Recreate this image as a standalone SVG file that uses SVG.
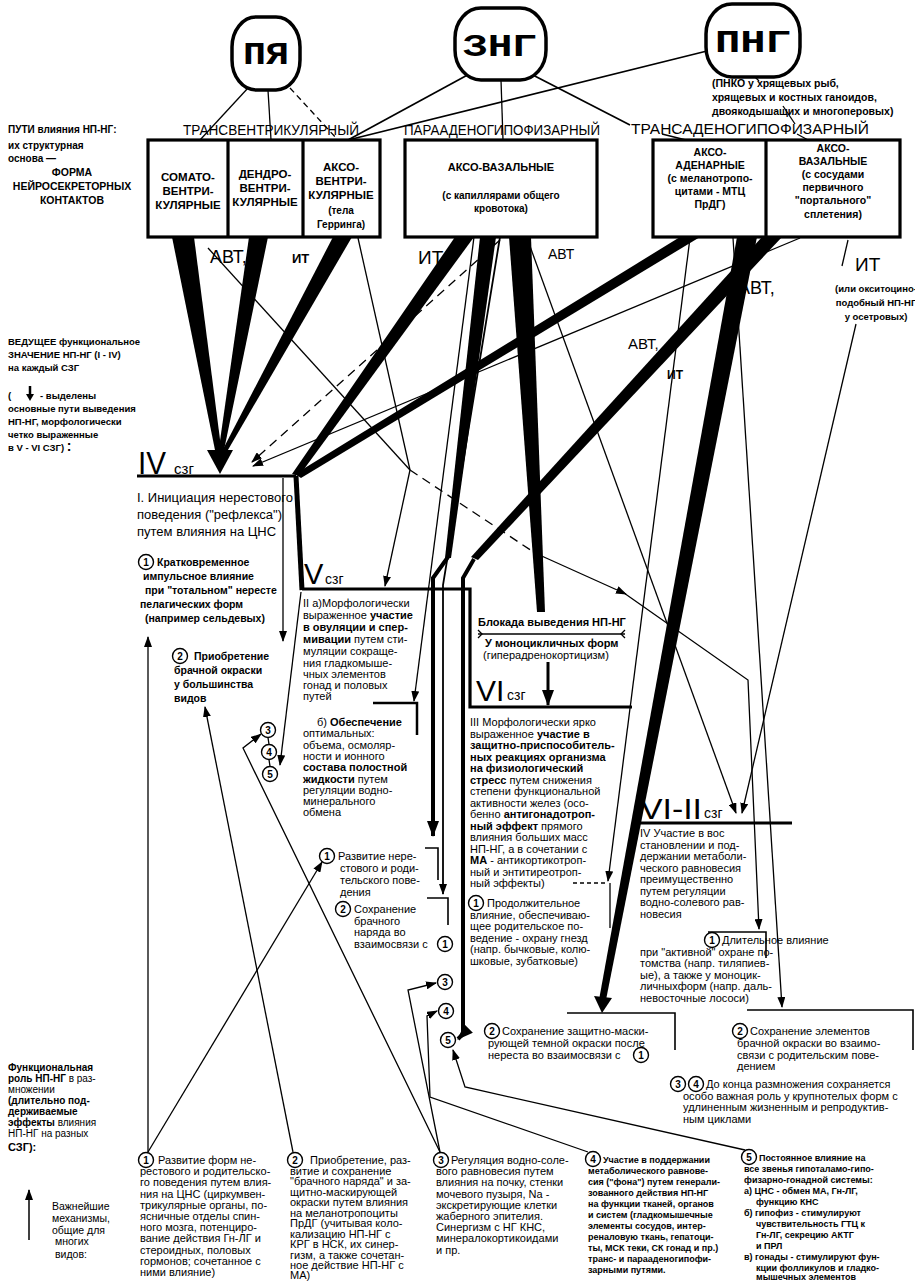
<svg xmlns="http://www.w3.org/2000/svg" width="915" height="1282" viewBox="0 0 915 1282">
<style>
text{font-family:"Liberation Sans",Arial,sans-serif;fill:#000}
.b{font-weight:bold}
.f9{font-size:9.5px}
.f10{font-size:10px}
.f11{font-size:11px}
.f12{font-size:11.5px}
.mono{font-family:"Liberation Mono","Courier New",monospace;font-weight:bold}
.ln{stroke:#000;fill:none;stroke-width:1.3}
.ln2{stroke:#000;fill:none;stroke-width:2.5}
.ln3{stroke:#000;fill:none;stroke-width:3.2}
.dash{stroke-dasharray:9 6}
.blk{fill:#000;stroke:none}
.box{fill:#fff;stroke:#000;stroke-width:3.2}
.ov{fill:#fff;stroke:#000;stroke-width:3.5}
.cc{fill:#fff;stroke:#000;stroke-width:1.4}
.cn{font-size:10px;font-weight:bold;text-anchor:middle}
.mid{text-anchor:middle}
</style>
<defs>
<marker id="a" markerUnits="userSpaceOnUse" markerWidth="11" markerHeight="8" refX="10" refY="4" orient="auto"><path d="M0,0 L11,4 L0,8 z" fill="#000"/></marker>
<marker id="A" markerUnits="userSpaceOnUse" markerWidth="16" markerHeight="12" refX="15" refY="6" orient="auto"><path d="M0,0 L16,6 L0,12 z" fill="#000"/></marker>
</defs>
<rect width="915" height="1282" fill="#fff"/>

<!-- connectors -->
<g id="connectors">
<!-- top: ovals to path labels -->
<line class="ln" x1="248" y1="88" x2="200" y2="140"/>
<line class="ln" x1="268" y1="90" x2="271" y2="140"/>
<line class="ln dash" x1="290" y1="88" x2="338" y2="140" style="stroke-dasharray:6 4"/>
<line class="ln" x1="473" y1="72" x2="348" y2="140" style="stroke-width:1.7"/>
<line class="ln" x1="501" y1="80" x2="503" y2="140"/>
<line class="ln" x1="527" y1="72" x2="630" y2="125" style="stroke-width:1.7"/>
<line class="ln" x1="662" y1="134" x2="686" y2="140"/>
<line class="ln" x1="711" y1="50" x2="348" y2="140" style="stroke-width:1.7"/>
<line class="ln" x1="755" y1="77" x2="759" y2="81"/>
<line class="ln" x1="783" y1="106" x2="795" y2="124"/>
<line class="ln" x1="797" y1="134" x2="808" y2="140"/>

<!-- thick wedges to IV -->
<polygon class="blk" points="172,237 194,237 222,455 216,455"/>
<polygon class="blk" points="249,237 268,237 223,455 218,455"/>
<polygon class="blk" points="333,237 352,237 225,455 220,455"/>
<polygon class="blk" points="207,450 233,450 220,474"/>
<!-- thick to IV end / V border -->
<polygon class="blk" points="455,237 474,237 299,476 292,474"/>
<polygon class="blk" points="680,237 700,237 301,478 295,474"/>
<line class="ln" x1="296" y1="476" x2="302" y2="590" style="stroke-width:5"/>
<!-- thick middle to V/① -->
<polygon class="blk" points="480,237 496,237 451,558 445,558"/>
<polyline class="ln" points="448,557 433,578 433,836" style="stroke-width:4" marker-end="url(#A)"/>
<!-- thick right box to ⑤ -->
<polygon class="blk" points="762,237 782,237 478,560 471,557"/>
<polyline class="ln" points="474,559 463,578 463,1034 458,1039" style="stroke-width:4" marker-end="url(#A)"/>
<!-- thick right box to ② защитно -->
<polygon class="blk" points="737,237 757,237 606,1000 599,1000"/>
<polygon class="blk" points="594,996 612,998 602,1013"/>
<!-- thick middle toward Блокада -->
<polygon class="blk" points="509,237 531,237 545,612 537,612"/>

<!-- thin connectors -->
<line class="ln" x1="208" y1="248" x2="410" y2="470"/>
<line class="ln" x1="358" y1="238" x2="410" y2="470"/>
<line class="ln" x1="410" y1="470" x2="385" y2="586" marker-end="url(#a)"/>
<line class="ln dash" x1="410" y1="470" x2="535" y2="553"/>
<line class="ln" x1="535" y1="553" x2="626" y2="594" marker-end="url(#a)"/>
<polyline class="ln" points="624,593 748,680 759,929" marker-end="url(#a)"/>
<line class="ln" x1="474" y1="237" x2="414" y2="701" marker-end="url(#a)"/>
<polyline class="ln" points="500,237 443,585 443,894" style="stroke-width:1.8" marker-end="url(#a)"/>
<line class="ln dash" x1="500" y1="240" x2="252" y2="462" marker-end="url(#a)"/>
<line class="ln" x1="527" y1="238" x2="736" y2="813" marker-end="url(#a)"/>
<line class="ln" x1="733" y1="238" x2="782" y2="1007" marker-end="url(#a)"/>
<line class="ln" x1="800" y1="238" x2="253" y2="466" marker-end="url(#a)"/>
<line class="ln" x1="690" y1="238" x2="608" y2="881" marker-end="url(#a)"/>
<line class="ln" x1="848" y1="240" x2="842" y2="266"/>
<line class="ln" x1="856" y1="324" x2="742" y2="813" marker-end="url(#a)"/>
<line class="ln" x1="283" y1="478" x2="283" y2="641" marker-end="url(#a)"/>
<line class="ln" x1="301" y1="592" x2="280" y2="765" marker-end="url(#a)"/>
<line class="ln" x1="268" y1="737.5" x2="269" y2="744.5"/>
<line class="ln" x1="269" y1="759.5" x2="270" y2="766.5"/>

<!-- bottom mechanism links -->
<line class="ln" x1="148" y1="1152" x2="148" y2="637" marker-end="url(#a)"/>
<line class="ln" x1="148" y1="1152" x2="322" y2="862" marker-end="url(#a)"/>
<line class="ln" x1="293" y1="1152" x2="205" y2="707" marker-end="url(#a)"/>
<polyline class="ln" points="440,1152 243,748 261,734" marker-end="url(#a)"/>
<polyline class="ln" points="440,1152 408,990 436,983" marker-end="url(#a)"/>
<polyline class="ln" points="588,1152 430,1097 427,1016 437,1011" marker-end="url(#a)"/>
<polyline class="ln" points="745,1150 465,1087 453,1050" marker-end="url(#a)"/>

<!-- level lines / box borders -->
<line class="ln3" x1="137" y1="476" x2="296" y2="476"/>
<polyline class="ln3" points="302,589 470,589 470,707 632,707"/>
<polyline class="ln2" points="373,703 417,703 417,735"/>
<polyline class="ln" points="425,848 438,848 438,880" style="stroke-width:1.6"/>
<polyline class="ln" points="427,898 448,898 448,925" style="stroke-width:1.6"/>
<line class="ln dash" x1="573" y1="883" x2="606" y2="883" style="stroke-dasharray:4 3"/>
<line class="ln" x1="610" y1="883" x2="610" y2="928"/>
<polyline class="ln" points="567,1013 675,1013 675,1050" style="stroke-width:1.6"/>
<line class="ln3" x1="638" y1="823" x2="792" y2="823"/>
<polyline class="ln" points="708,932 766,932 766,958" style="stroke-width:1.6"/>
<polyline class="ln" points="747,1010 913,1010 913,1050" style="stroke-width:1.6"/>
<line class="ln" x1="478" y1="634" x2="625" y2="634"/>
<polyline class="ln" points="478,630 482,634 478,638"/>
<polyline class="ln" points="625,630 621,634 625,638"/>
<line class="ln" x1="548" y1="662" x2="548" y2="705" style="stroke-width:3" marker-end="url(#A)"/>
</g>

<!-- top ovals -->
<g id="node-PYa"><rect class="ov" x="232" y="17" width="68" height="73" rx="24" ry="30"/><text class="mono mid" x="266" y="64" font-size="31" textLength="46" lengthAdjust="spacingAndGlyphs">ПЯ</text></g>
<g id="node-ZNG"><rect class="ov" x="455" y="8" width="91" height="72" rx="26" ry="30"/><text class="mono mid" x="500" y="56" font-size="31" textLength="74" lengthAdjust="spacingAndGlyphs">ЗНГ</text></g>
<g id="node-PNG"><rect class="ov" x="706" y="4" width="94" height="73" rx="26" ry="30"/><text class="mono mid" x="753" y="52" font-size="31" textLength="76" lengthAdjust="spacingAndGlyphs">ПНГ</text></g>
<g id="note-PNKO" class="mono" font-size="10.5">
<text x="712" y="87">(ПНКО у хрящевых рыб,</text>
<text x="712" y="101">хрящевых и костных ганоидов,</text>
<text x="712" y="115">двоякодышащих и многоперовых)</text>
</g>

<!-- path labels -->
<g id="path-labels" font-size="14">
<text x="183" y="135" textLength="176" lengthAdjust="spacingAndGlyphs">ТРАНСВЕНТРИКУЛЯРНЫЙ</text>
<text x="404" y="135" textLength="196" lengthAdjust="spacingAndGlyphs">ПАРААДЕНОГИПОФИЗАРНЫЙ</text>
<text x="631" y="134" textLength="238" lengthAdjust="spacingAndGlyphs">ТРАНСАДЕНОГИПОФИЗАРНЫЙ</text>
</g>

<g id="legend-top" class="b f10">
<text x="8" y="133">ПУТИ влияния  НП-НГ:</text>
<text x="8" y="149">их структурная</text>
<text x="8" y="162">основа —</text>
<text class="mid" x="72" y="176" font-size="10.5">ФОРМА</text>
<text class="mid" x="72" y="190" font-size="10.5">НЕЙРОСЕКРЕТОРНЫХ</text>
<text class="mid" x="72" y="204" font-size="10.5">КОНТАКТОВ</text>
</g>

<!-- contact boxes -->
<g id="node-transventricular">
<rect class="box" x="148" y="140" width="232" height="97"/>
<line class="ln3" x1="228" y1="140" x2="228" y2="237"/>
<line class="ln3" x1="303" y1="140" x2="303" y2="237"/>
<g class="b f12 mid">
<text x="188" y="181">СОМАТО-</text><text x="188" y="195">ВЕНТРИ-</text><text x="188" y="209">КУЛЯРНЫЕ</text>
<text x="265" y="178">ДЕНДРО-</text><text x="265" y="192">ВЕНТРИ-</text><text x="265" y="206">КУЛЯРНЫЕ</text>
<text x="341" y="171">АКСО-</text><text x="341" y="185">ВЕНТРИ-</text><text x="341" y="199">КУЛЯРНЫЕ</text>
<text x="341" y="214" font-size="10">(тела</text><text x="341" y="228" font-size="10">Герринга)</text>
</g>
</g>
<g id="node-paraadeno">
<rect class="box" x="405" y="140" width="192" height="97"/>
<g class="b mid">
<text x="501" y="171" font-size="11">АКСО-ВАЗАЛЬНЫЕ</text>
<text x="501" y="199" font-size="10">(с капиллярами общего</text>
<text x="501" y="212" font-size="10">кровотока)</text>
</g>
</g>
<g id="node-transadeno">
<rect class="box" x="653" y="140" width="247" height="97"/>
<line class="ln3" x1="766" y1="140" x2="766" y2="237"/>
<g class="b mid" font-size="10.5">
<text x="710" y="156">АКСО-</text><text x="710" y="169">АДЕНАРНЫЕ</text><text x="710" y="182">(с меланотропо-</text><text x="710" y="195">цитами - МТЦ</text><text x="710" y="208">ПрДГ)</text>
<text x="833" y="152">АКСО-</text><text x="833" y="165">ВАЗАЛЬНЫЕ</text><text x="833" y="178">(с сосудами</text><text x="833" y="191">первичного</text><text x="833" y="204">"портального"</text><text x="833" y="218">сплетения)</text>
</g>
</g>

<!-- transmission labels -->
<g id="labels-avt-it">
<text x="210" y="263" font-size="18">АВТ,</text>
<text class="b" x="292" y="263" font-size="13">ИТ</text>
<text x="418" y="264" font-size="19">ИТ,</text>
<text x="548" y="259" font-size="14">АВТ</text>
<text x="738" y="294" font-size="18">АВТ,</text>
<text x="628" y="349" font-size="15">АВТ,</text>
<text class="b" x="667" y="379" font-size="12">ИТ</text>
<text x="855" y="271" font-size="19">ИТ</text>
<g class="b mid" font-size="9.5"><text x="876" y="292">(или окситоцино-</text><text x="876" y="306">подобный НП-НГ</text><text x="876" y="320">у осетровых)</text></g>
</g>

<g id="legend-mid" class="b f9">
<text x="8" y="345">ВЕДУЩЕЕ функциональное</text>
<text x="8" y="358">ЗНАЧЕНИЕ НП-НГ (I - IV)</text>
<text x="8" y="371">на каждый СЗГ</text>
<text x="8" y="399">(</text>
<line x1="30" y1="386" x2="30" y2="395" stroke="#000" stroke-width="2.5"/>
<polygon class="blk" points="26,394 34,394 30,401"/>
<text x="40" y="399">- выделены</text>
<text x="8" y="412">основные пути выведения</text>
<text x="8" y="425">НП-НГ, морфологически</text>
<text x="8" y="438">четко выраженные</text>
<text x="8" y="451">в V - VI  СЗГ) <tspan font-size="14">:</tspan></text>
</g>

<!-- IV СЗГ -->
<g id="node-IV">
<text x="138" y="474" font-size="32" textLength="28" lengthAdjust="spacingAndGlyphs">IV</text>
<text x="174" y="474" font-size="15">сзг</text>
<g font-size="13"><text x="137" y="502">I. Инициация нерестового</text><text x="137" y="519">поведения ("рефлекса")</text><text x="137" y="536">путем влияния на ЦНС</text></g>
<g class="b" font-size="10.5">
<circle class="cc" cx="146" cy="562" r="7.5"/><text class="cn" x="146" y="565.5">1</text>
<text x="157" y="566">Кратковременное</text>
<text x="143" y="580">импульсное влияние</text>
<text x="145" y="594">при "тотальном" нересте</text>
<text x="140" y="608">пелагических форм</text>
<text x="145" y="622">(например сельдевых)</text>
<circle class="cc" cx="180" cy="656" r="7.5"/><text class="cn" x="180" y="659.5">2</text>
<text x="194" y="660">Приобретение</text>
<text x="174" y="674">брачной окраски</text>
<text x="174" y="688">у большинства</text>
<text x="174" y="702">видов</text>
</g>
</g>

<!-- V СЗГ -->
<g id="node-V">
<text x="304" y="584" font-size="29">V</text>
<text x="325" y="584" font-size="14">сзг</text>
<g class="f11">
<text x="303" y="607">II а)Морфологически</text>
<text x="303" y="619">выраженное <tspan class="b">участие</tspan></text>
<text class="b" x="303" y="631">в овуляции и спер-</text>
<text x="303" y="643"><tspan class="b">мивации</tspan> путем сти-</text>
<text x="303" y="655">муляции сокраще-</text>
<text x="303" y="667">ния гладкомыше-</text>
<text x="303" y="678">чных элементов</text>
<text x="303" y="689">гонад и половых</text>
<text x="303" y="700">путей</text>
<text x="317" y="726">б) <tspan class="b">Обеспечение</tspan></text>
<text x="303" y="737">оптимальных:</text>
<text x="303" y="749">объема, осмоляр-</text>
<text x="303" y="760">ности и ионного</text>
<text class="b" x="303" y="771">состава полостной</text>
<text x="303" y="783"><tspan class="b">жидкости</tspan> путем</text>
<text x="303" y="794">регуляции водно-</text>
<text x="303" y="805">минерального</text>
<text x="303" y="816">обмена</text>
</g>
<circle class="cc" cx="268" cy="730" r="7.5"/><text class="cn" x="268" y="733.5">3</text>
<circle class="cc" cx="269" cy="752" r="7.5"/><text class="cn" x="269" y="755.5">4</text>
<circle class="cc" cx="270" cy="774" r="7.5"/><text class="cn" x="270" y="777.5">5</text>
<g class="f11">
<circle class="cc" cx="327" cy="856" r="7.5"/><text class="cn" x="327" y="859.5">1</text>
<text x="338" y="860">Развитие нере-</text>
<text x="340" y="872">стового и роди-</text>
<text x="340" y="884">тельского пове-</text>
<text x="340" y="896">дения</text>
<circle class="cc" cx="343" cy="909" r="7.5"/><text class="cn" x="343" y="912.5">2</text>
<text x="354" y="913">Сохранение</text>
<text x="354" y="925">брачного</text>
<text x="354" y="936">наряда во</text>
<text x="354" y="948">взаимосвязи с</text>
</g>
<circle class="cc" cx="445" cy="944" r="7.5"/><text class="cn" x="445" y="947.5">1</text>
<circle class="cc" cx="445" cy="982" r="7.5"/><text class="cn" x="445" y="985.5">3</text>
<circle class="cc" cx="446" cy="1011" r="7.5"/><text class="cn" x="446" y="1014.5">4</text>
<circle class="cc" cx="448" cy="1040" r="7.5"/><text class="cn" x="448" y="1043.5">5</text>
</g>

<!-- VI СЗГ -->
<g id="node-VI">
<text class="b" x="478" y="626" font-size="11">Блокада выведения НП-НГ</text>
<text class="b" x="485" y="647" font-size="11">У моноцикличных форм</text>
<text x="483" y="659" font-size="11">(гиперадренокортицизм)</text>
<text x="476" y="701" font-size="30">VI</text>
<text x="507" y="700" font-size="14">сзг</text>
<g class="f11">
<text x="470" y="726">III Морфологически ярко</text>
<text x="470" y="737.5">выраженное <tspan class="b">участие в</tspan></text>
<text class="b" x="470" y="749">защитно-приспособитель-</text>
<text class="b" x="470" y="760.5">ных реакциях организма</text>
<text class="b" x="470" y="772">на физиологический</text>
<text x="470" y="783.5"><tspan class="b">стресс</tspan> путем снижения</text>
<text x="470" y="795">степени функциональной</text>
<text x="470" y="806.5">активности желез (осо-</text>
<text x="470" y="818">бенно <tspan class="b">антигонадотроп-</tspan></text>
<text x="470" y="829.5"><tspan class="b">ный эффект</tspan> прямого</text>
<text x="470" y="841">влияния больших масс</text>
<text x="470" y="852.5">НП-НГ, а в сочетании с</text>
<text x="470" y="864"><tspan class="b">МА</tspan> - антикортикотроп-</text>
<text x="470" y="875.5">ный и энтитиреотроп-</text>
<text x="470" y="887">ный эффекты)</text>
<circle class="cc" cx="476" cy="903" r="7.5"/><text class="cn" x="476" y="906.5">1</text>
<text x="487" y="907">Продолжительное</text>
<text x="470" y="918.5">влияние, обеспечиваю-</text>
<text x="470" y="930">щее родительское по-</text>
<text x="470" y="941.5">ведение - охрану гнезд</text>
<text x="470" y="953">(напр. бычковые, колю-</text>
<text x="470" y="964.5">шковые, зубатковые)</text>
<circle class="cc" cx="492" cy="1031" r="7.5"/><text class="cn" x="492" y="1034.5">2</text>
<text x="502" y="1035">Сохранение защитно-маски-</text>
<text x="488" y="1047">рующей темной окраски после</text>
<text x="488" y="1059">нереста во взаимосвязи с</text>
</g>
<circle class="cc" cx="641" cy="1055" r="7.5"/><text class="cn" x="641" y="1058.5">1</text>
</g>

<!-- VI-II СЗГ -->
<g id="node-VIII">
<text x="640" y="819" font-size="30" textLength="62" lengthAdjust="spacingAndGlyphs">VI-II</text>
<text x="704" y="818" font-size="14">сзг</text>
<g class="f11">
<text x="640" y="837">IV Участие в вос</text>
<text x="640" y="848.5">становлении и под-</text>
<text x="640" y="860">держании метаболи-</text>
<text x="640" y="871.5">ческого равновесия</text>
<text x="640" y="883">преимущественно</text>
<text x="640" y="894.5">путем регуляции</text>
<text x="640" y="906">водно-солевого рав-</text>
<text x="640" y="917.5">новесия</text>
<circle class="cc" cx="712" cy="940" r="7.5"/><text class="cn" x="712" y="943.5">1</text>
<text x="722" y="944">Длительное влияние</text>
<text x="640" y="955.5">при "активной" охране по-</text>
<text x="640" y="967">томства (напр. тиляпиев-</text>
<text x="640" y="978.5">ые), а также у моноцик-</text>
<text x="640" y="990">личныхформ (напр. даль-</text>
<text x="640" y="1001.5">невосточные лососи)</text>
<circle class="cc" cx="740" cy="1031" r="7.5"/><text class="cn" x="740" y="1034.5">2</text>
<text x="750" y="1035">Сохранение элементов</text>
<text x="737" y="1047">брачной окраски во взаимо-</text>
<text x="737" y="1058.5">связи с родительским пове-</text>
<text x="737" y="1070">дением</text>
<circle class="cc" cx="678" cy="1084" r="7.5"/><text class="cn" x="678" y="1087.5">3</text>
<circle class="cc" cx="696" cy="1084" r="7.5"/><text class="cn" x="696" y="1087.5">4</text>
<text x="706" y="1088">До конца размножения сохраняется</text>
<text x="683" y="1099.5">особо важная роль у крупнотелых форм с</text>
<text x="683" y="1111">удлиненным жизненным и репродуктив-</text>
<text x="683" y="1122.5">ным циклами</text>
</g>
</g>

<!-- bottom legend -->
<g id="legend-bottom" class="f10">
<text class="b" x="8" y="1071">Функциональная</text>
<text x="8" y="1082"><tspan class="b">роль НП-НГ</tspan> в раз-</text>
<text x="8" y="1093">множении</text>
<text class="b" x="8" y="1104">(длительно под-</text>
<text class="b" x="8" y="1115">держиваемые</text>
<text x="8" y="1126"><tspan class="b">эффекты</tspan> влияния</text>
<text x="8" y="1137">НП-НГ на разных</text>
<text class="b" x="8" y="1151" font-size="11">СЗГ):</text>
<line x1="29" y1="1240" x2="29" y2="1190" stroke="#000" stroke-width="1.5" marker-end="url(#a)"/>
<g font-size="10.5"><text x="52" y="1210">Важнейшие</text><text x="52" y="1222">механизмы,</text><text x="52" y="1234">общие для</text><text x="55" y="1245">многих</text><text x="55" y="1258">видов:</text></g>
</g>

<g id="mech-1" class="f11">
<circle class="cc" cx="146" cy="1160" r="7.5"/><text class="cn" x="146" y="1163.5">1</text>
<text x="158" y="1164">Развитие форм не-</text>
<text x="140" y="1175.2">рестового и родительско-</text>
<text x="140" y="1186.4">го поведения путем влия-</text>
<text x="140" y="1197.6">ния на ЦНС (циркумвен-</text>
<text x="140" y="1208.8">трикулярные органы, по-</text>
<text x="140" y="1220">ясничные отделы спин-</text>
<text x="140" y="1231.2">ного мозга, потенциро-</text>
<text x="140" y="1242.4">вание действия Гн-ЛГ и</text>
<text x="140" y="1253.6">стероидных, половых</text>
<text x="140" y="1264.8">гормонов; сочетанное с</text>
<text x="140" y="1276">ними влияние)</text>
</g>
<g id="mech-2" class="f11">
<circle class="cc" cx="295" cy="1160" r="7.5"/><text class="cn" x="295" y="1163.5">2</text>
<text x="310" y="1164">Приобретение, раз-</text>
<text x="290" y="1174.5">витие и сохранение</text>
<text x="290" y="1185">"брачного наряда" и за-</text>
<text x="290" y="1195.5">щитно-маскирующей</text>
<text x="290" y="1206">окраски путем влияния</text>
<text x="290" y="1216.5">на меланотропоциты</text>
<text x="290" y="1227">ПрДГ (учитывая коло-</text>
<text x="290" y="1237.5">кализацию НП-НГ с</text>
<text x="290" y="1248">КРГ в НСК, их синер-</text>
<text x="290" y="1258.5">гизм, а также сочетан-</text>
<text x="290" y="1269">ное действие НП-НГ с</text>
<text x="290" y="1279">МА)</text>
</g>
<g id="mech-3" class="f11">
<circle class="cc" cx="441" cy="1160" r="7.5"/><text class="cn" x="441" y="1163.5">3</text>
<text x="451" y="1164">Регуляция водно-соле-</text>
<text x="436" y="1175.2">вого равновесия путем</text>
<text x="436" y="1186.4">влияния на почку, стенки</text>
<text x="436" y="1197.6">мочевого пузыря,   Na -</text>
<text x="436" y="1208.8">экскретирующие клетки</text>
<text x="436" y="1220">жаберного эпителия.</text>
<text x="436" y="1231.2">Синергизм с НГ КНС,</text>
<text x="436" y="1242.4">минералокортикоидами</text>
<text x="436" y="1253.6">и пр.</text>
</g>
<g id="mech-4" class="b" font-size="9">
<circle class="cc" cx="593" cy="1159" r="7.5"/><text class="cn" x="593" y="1162.5">4</text>
<text x="603" y="1163">Участие в поддержании</text>
<text x="588" y="1174">метаболического равнове-</text>
<text x="588" y="1185">сия ("фона") путем генерали-</text>
<text x="588" y="1196">зованного действия НП-НГ</text>
<text x="588" y="1207">на функции тканей, органов</text>
<text x="588" y="1218">и систем (гладкомышечные</text>
<text x="588" y="1229">элементы сосудов, интер-</text>
<text x="588" y="1240">реналовую ткань, гепатоци-</text>
<text x="588" y="1251">ты, МСК теки, СК гонад и пр.)</text>
<text x="588" y="1262">транс- и парааденогипофи-</text>
<text x="588" y="1273">зарными путями.</text>
</g>
<g id="mech-5" class="b" font-size="9">
<circle class="cc" cx="749" cy="1157" r="7.5"/><text class="cn" x="749" y="1160.5">5</text>
<text x="759" y="1161">Постоянное влияние на</text>
<text x="744" y="1172">все звенья гипоталамо-гипо-</text>
<text x="744" y="1183">физарно-гонадной системы:</text>
<text x="744" y="1194">а) ЦНС - обмен МА, Гн-ЛГ,</text>
<text x="756" y="1205">функцию КНС</text>
<text x="744" y="1216">б) гипофиз - стимулируют</text>
<text x="756" y="1227">чувствительность ГТЦ к</text>
<text x="756" y="1238">Гн-ЛГ, секрецию АКТГ</text>
<text x="756" y="1249">и ПРЛ</text>
<text x="744" y="1260">в) гонады - стимулируют фун-</text>
<text x="756" y="1271">кции фолликулов и гладко-</text>
<text x="756" y="1280">мышечных элементов</text>
</g>
</svg>
